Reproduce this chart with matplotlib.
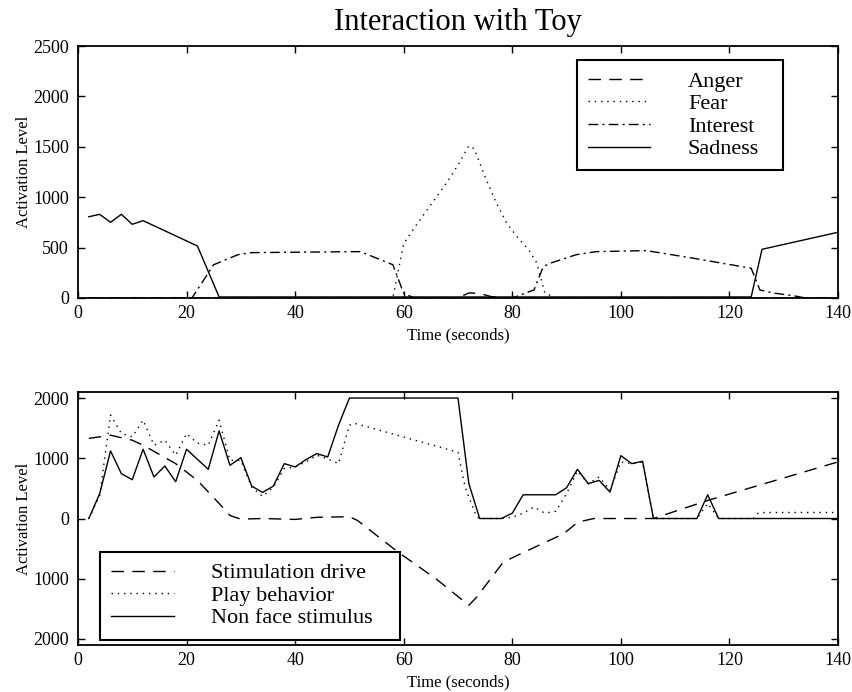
#!/usr/bin/env python3

import matplotlib
matplotlib.use('Agg')
import matplotlib.pyplot as plt

plt.rcParams['font.family'] = ['Liberation Serif', 'DejaVu Serif']
plt.rcParams['xtick.direction'] = 'in'
plt.rcParams['ytick.direction'] = 'in'
plt.rcParams['xtick.top'] = True
plt.rcParams['ytick.right'] = True

# ---- top panel: emotions (time in seconds, activation level)
anger_t = [2, 70, 72, 74, 76, 78, 140]
anger_v = [0, 0, 50, 45, 15, 0, 0]

fear_t = [2, 58, 60, 62, 64, 66, 68, 70, 72, 73, 75, 77, 79, 81, 83, 84.5, 86, 88, 140]
fear_v = [0, 0, 540, 700, 850, 1000, 1150, 1320, 1510, 1480, 1200, 950, 740, 600, 480, 350, 50, 0, 0]

interest_t = [2, 21, 25, 29.5, 32, 52, 58, 60, 62, 80, 84, 85.7, 87, 91.8, 95.5, 104.7, 113.3, 124, 125.6, 128, 132, 134, 140]
interest_v = [0, 0, 330, 430, 450, 460, 330, 45, 0, 0, 80, 310, 345, 430, 460, 470, 395, 295, 80, 50, 20, 0, 0]

sadness_t = [2, 4, 6, 8, 10, 12, 22, 26, 124, 126, 140]
sadness_v = [806, 830, 751, 830, 731, 767, 516, 10, 10, 483, 652]

# ---- bottom panel: drive / behavior / stimulus
stim_t = [2, 6, 10, 12, 18, 22, 26, 28, 30, 34, 40, 44, 50, 51.5, 59, 66, 72, 73.4, 78.3, 80.8, 89.4, 92.1, 95, 106, 116, 140]
stim_v = [1330, 1383, 1300, 1217, 911, 633, 250, 50, -10, 0, -15, 20, 30, -33, -560, -1005, -1440, -1311, -728, -617, -256, -60, 0, 0, 300, 940]

play_t = [2, 4, 6, 8, 10, 12, 14, 16, 18, 20, 22, 24, 26, 28, 30, 32, 34, 36, 38, 40, 42, 44, 46, 48, 50, 51,
          70, 71.3, 73.4, 74, 78, 80, 82, 84, 86, 88, 90, 92, 94, 96, 98, 100, 102, 104, 106, 114, 116, 118,
          124.4, 125.3, 126.5, 140]
play_v = [0, 380, 1717, 1411, 1356, 1633, 1217, 1300, 1050, 1411, 1250, 1217, 1633, 967, 967, 520, 367, 520, 830, 856,
          940, 1050, 990, 911, 1550, 1580, 1100, 522, 30, 0, 0, 20, 89, 189, 89, 120, 411, 789, 578, 690, 470, 939,
          911, 940, 0, 0, 250, 0, 0, 89, 100, 100]

face_t = [2, 4, 6, 8, 10, 12, 14, 16, 18, 20, 24, 26, 28, 30, 32, 34, 36, 38, 40, 42, 44, 46, 48, 50,
          70, 72, 74, 78, 80, 82, 88, 90, 92, 94, 96, 98, 100, 102, 104, 106, 114, 116, 118, 140]
face_v = [0, 411, 1122, 744, 644, 1150, 689, 872, 611, 1150, 817, 1456, 883, 1011, 539, 433, 539, 911, 856, 978,
          1078, 1022, 1550, 2000, 2000, 578, 0, 0, 89, 394, 394, 511, 817, 578, 633, 439, 1044, 911, 950, 0, 0, 394,
          0, 0]

xticks = [0, 20, 40, 60, 80, 100, 120, 140]
top_yticks = [0, 500, 1000, 1500, 2000, 2500]
bot_yticks = [-2000, -1000, 0, 1000, 2000]
bot_ylabels = ['2000', '1000', '0', '1000', '2000']

dash = (0, (9, 6))
dot = (0, (1, 3.5))
dashdot = (0, (7, 3, 1.5, 3))

leg_kw = dict(loc='upper left', mode='expand', fontsize=16, frameon=True,
              fancybox=False, edgecolor='k', framealpha=1, handlelength=2.8, handletextpad=1.7,
              labelspacing=0.09, borderpad=0.5, borderaxespad=0)

fig = plt.figure(figsize=(8.52, 6.92), dpi=100)

# top panel
ax1 = fig.add_axes([0.0915, 0.5694, 0.8921, 0.3641])
ax1.plot(anger_t, anger_v, color='k', lw=1, ls=dash, label='Anger')
ax1.plot(fear_t, fear_v, color='k', lw=1, ls=dot, label='Fear')
ax1.plot(interest_t, interest_v, color='k', lw=1, ls=dashdot, label='Interest')
ax1.plot(sadness_t, sadness_v, color='k', lw=1, ls='-', label='Sadness')
ax1.set_xlim(0, 140)
ax1.set_ylim(0, 2500)
ax1.set_xticks(xticks)
ax1.set_yticks(top_yticks)
ax1.set_title('Interaction with Toy', fontsize=22, pad=11.5)
leg1 = ax1.legend(bbox_to_anchor=(0.677, 0.5, 0.2418, 0.4133), bbox_transform=fig.transFigure, **leg_kw)
leg1.get_frame().set_linewidth(1.5)

# bottom panel
ax2 = fig.add_axes([0.0915, 0.0679, 0.8921, 0.3656])
ax2.plot(stim_t, stim_v, color='k', lw=1, ls=dash, label='Stimulation drive')
ax2.plot(play_t, play_v, color='k', lw=1, ls=dot, label='Play behavior')
ax2.plot(face_t, face_v, color='k', lw=1, ls='-', label='Non face stimulus')
ax2.set_xlim(0, 140)
ax2.set_ylim(-2100, 2100)
ax2.set_xticks(xticks)
ax2.set_yticks(bot_yticks)
ax2.set_yticklabels(bot_ylabels)
leg2 = ax2.legend(bbox_to_anchor=(0.1177, 0.1, 0.3521, 0.1028), bbox_transform=fig.transFigure, **leg_kw)
leg2.get_frame().set_linewidth(1.5)

for ax in (ax1, ax2):
    ax.set_xlabel('Time (seconds)', fontsize=12, labelpad=4)
    ax.set_ylabel('Activation Level', fontsize=12, labelpad=1)
    ax.tick_params(labelsize=13, length=5, width=1)
    ax.tick_params(axis='x', pad=5)
    ax.tick_params(axis='y', pad=6.5)
    for s in ax.spines.values():
        s.set_linewidth(1.3)

fig.savefig('out.png', dpi=100)
